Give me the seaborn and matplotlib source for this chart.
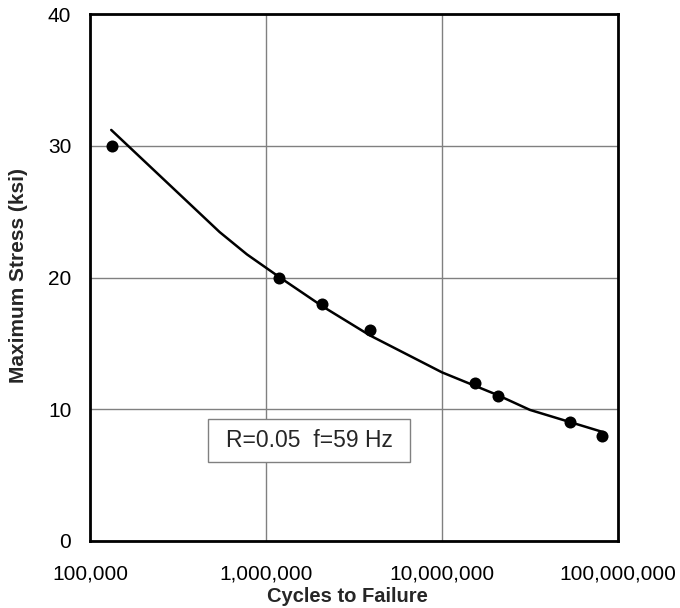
import numpy as np
import pandas as pd
import matplotlib
matplotlib.use("Agg")
import matplotlib.pyplot as plt
import matplotlib.ticker as mticker
from matplotlib.patches import Rectangle
import seaborn as sns

# Data points (cycles, stress ksi)
cycles = [1.33e5, 1.19e6, 2.08e6, 3.9e6, 1.54e7, 2.08e7, 5.33e7, 8.1e7]
stress = [30, 20, 18, 16, 12, 11, 9, 8]

# Fitted curve
fit_cycles = [1.32e5, 5.45e5, 7.8e5, 1.2e6, 2.1e6, 3.9e6, 1.0e7, 2.05e7, 3.16e7, 8.3e7]
fit_stress = [31.2, 23.45, 21.75, 20.0, 17.8, 15.6, 12.8, 11.1, 9.95, 8.25]

x_ticks = [1e5, 1e6, 1e7, 1e8]
y_ticks = [0, 10, 20, 30, 40]

sns.set_style("white")
plt.rcParams['font.family'] = ['Liberation Sans', 'DejaVu Sans']

fig = plt.figure(figsize=(6.8, 6.08), dpi=100)
ax = fig.add_axes([90/680, 1-541/608, (618-90)/680, (541-14)/608])

pts = pd.DataFrame({"cycles": cycles, "stress": stress})
fit = pd.DataFrame({"cycles": fit_cycles, "stress": fit_stress})

sns.lineplot(data=fit, x="cycles", y="stress", ax=ax, color="black", lw=1.8, sort=False, zorder=3)
sns.scatterplot(data=pts, x="cycles", y="stress", ax=ax, color="black", s=75, linewidth=0, zorder=4)

ax.set_xscale("log")
ax.set_xlim(1e5, 1e8)
ax.set_ylim(0, 40)
ax.set_xticks(x_ticks)
ax.xaxis.set_major_formatter(mticker.FuncFormatter(lambda v, p: f"{int(round(v)):,}"))
ax.xaxis.set_minor_locator(mticker.NullLocator())
ax.set_yticks(y_ticks)

ax.grid(True, which="major", color="#808080", lw=1)
ax.set_axisbelow(True)
for s in ax.spines.values():
    s.set_color("black")
    s.set_linewidth(2)

ax.tick_params(axis="both", length=0, labelsize=15, colors="black")
ax.tick_params(axis="x", pad=17)
ax.tick_params(axis="y", pad=13.5)

ax.set_xlabel("Cycles to Failure", fontsize=14.5, fontweight="bold")
ax.set_ylabel("Maximum Stress (ksi)", fontsize=15, fontweight="bold")
ax.xaxis.set_label_coords(0.487, -0.087)
ax.yaxis.set_label_coords(-0.117, 0.503)

# annotation box
fig.patches.append(Rectangle((208/680, 1-462/608), (410-208)/680, (462-419)/608,
                             transform=fig.transFigure, fc="white", ec="#808080", lw=1, zorder=5))
fig.text(309/680, 1-440.5/608, "R=0.05  f=59 Hz", fontsize=16.5, ha="center", va="center", zorder=6)

fig.savefig("out.png", dpi=100)
